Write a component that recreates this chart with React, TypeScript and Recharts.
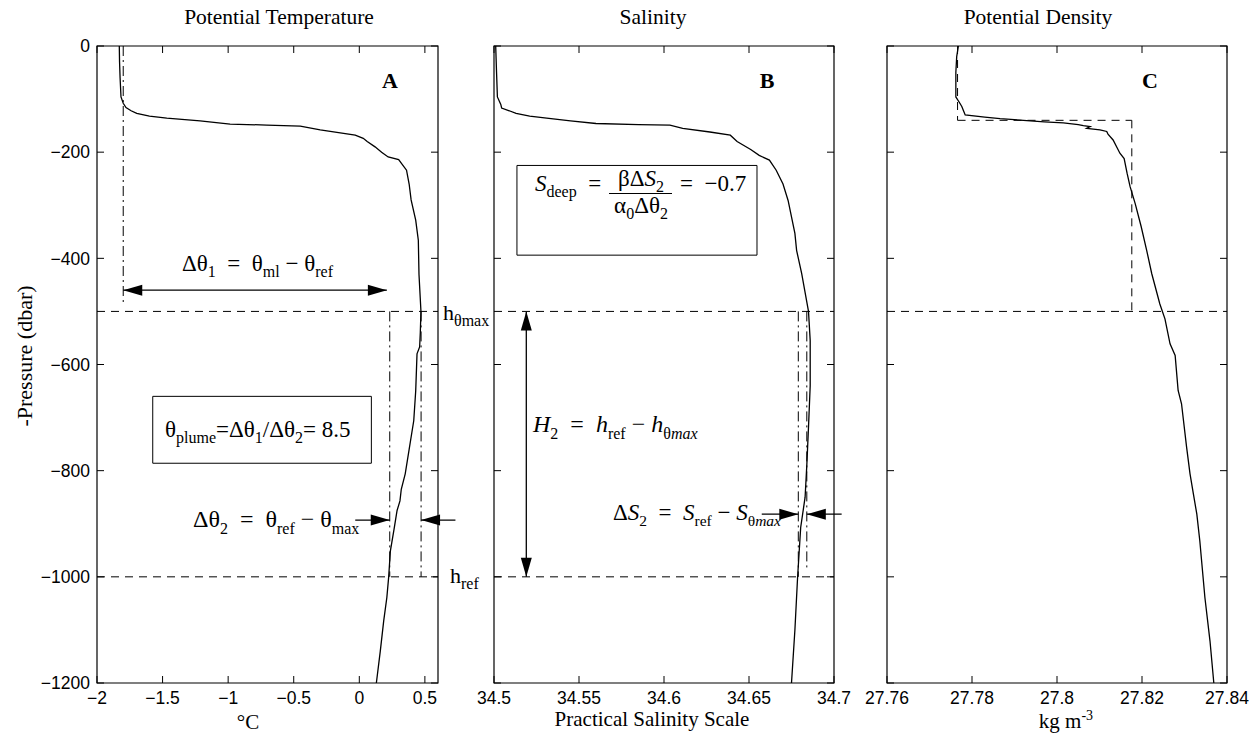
import React from "react";
import { LineChart, Line, XAxis, YAxis, ReferenceLine, ReferenceArea } from "recharts";

const W = 1254;
const H = 733;
const PLOT_TOP = 46;
const PLOT_BOTTOM = 683;
const TICK_PX = 7;

const pressureDomain = [-1200, 0];
const pressureTicks = [-1200, -1000, -800, -600, -400, -200, 0];
const tempTicks = [-2, -1.5, -1, -0.5, 0, 0.5];
const salTicks = [34.5, 34.55, 34.6, 34.65, 34.7];
const densTicks = [27.76, 27.78, 27.8, 27.82, 27.84];

// potential temperature profile
const tempDepth = [0, 30, 60, 96, 108, 116, 122, 127, 132, 136, 141, 147, 149, 151, 158, 168, 174, 180, 190, 200, 209, 214, 234, 260, 290, 328, 366, 430, 500, 540, 567, 580, 650, 706, 760, 806, 835, 857, 875, 910, 951, 1000, 1039, 1083, 1140, 1200];
const tempTheta = [-1.83, -1.828, -1.824, -1.817, -1.8, -1.779, -1.74, -1.697, -1.6, -1.468, -1.214, -0.985, -0.705, -0.45, -0.298, -0.031, 0.03, 0.06, 0.12, 0.17, 0.22, 0.3, 0.36, 0.38, 0.395, 0.43, 0.45, 0.455, 0.47, 0.465, 0.46, 0.44, 0.43, 0.415, 0.38, 0.35, 0.32, 0.31, 0.288, 0.265, 0.237, 0.224, 0.21, 0.186, 0.16, 0.13];

// salinity profile
const salDepth = [0, 50, 96, 110, 117, 122, 127, 132, 136, 141, 146, 148, 149, 155, 162, 168, 180, 195, 206, 215, 234, 260, 291, 353, 385, 429, 500, 555, 640, 718, 790, 850, 907, 1000, 1100, 1200];
const salValues = [34.501, 34.5015, 34.502, 34.504, 34.5045, 34.509, 34.513, 34.521, 34.531, 34.545, 34.56, 34.585, 34.6035, 34.611, 34.627, 34.639, 34.643, 34.651, 34.656, 34.662, 34.666, 34.67, 34.673, 34.677, 34.678, 34.681, 34.685, 34.686, 34.686, 34.685, 34.684, 34.683, 34.6804, 34.6786, 34.677, 34.675];

// potential density profile
const densDepth = [0, 20, 50, 96, 106, 114, 122, 130, 134, 137, 140, 143, 145, 148, 150, 152, 155, 158, 161, 166, 177, 202, 212, 240, 265, 297, 340, 385, 429, 486, 514, 561, 583, 649, 674, 756, 806, 844, 882, 932, 1039, 1121, 1200];
const densValues = [27.7768, 27.7764, 27.7762, 27.7762, 27.777, 27.7776, 27.778, 27.7784, 27.783, 27.7866, 27.7921, 27.797, 27.8015, 27.805, 27.8062, 27.8078, 27.807, 27.8101, 27.8117, 27.812, 27.8132, 27.8148, 27.8158, 27.8165, 27.8172, 27.8184, 27.8198, 27.8211, 27.8223, 27.8242, 27.8254, 27.8266, 27.8278, 27.8285, 27.8293, 27.8305, 27.8313, 27.8321, 27.8329, 27.8336, 27.8348, 27.836, 27.8369];

// annotation levels
const hThetaMax = -500;
const hRef = -1000;
const thetaMl = -1.8;
const thetaRef = 0.232;
const thetaMax = 0.471;
const sRef = 34.679;
const sThetaMax = 34.684;
const sigmaMl = 27.7766;
const sigmaStep = 27.8176;
const mlBase = -140;

const toRows = (depth: number[], vals: number[]) => depth.map((p, i) => ({ x: vals[i], y: -p }));
const tempData = toRows(tempDepth, tempTheta);
const salData = toRows(salDepth, salValues);
const densData = toRows(densDepth, densValues);

const minus = (v: number) => String(v).replace("-", "\u2212");
const DASH = "8 6";
const DASHDOT = "10 4 2 4";
const tickFont = { fill: "#000", fontSize: 17.5, fontFamily: "Liberation Sans, Arial, sans-serif" };

function Arrow(props: any) {
  const { x1, y1, x2, y2, both } = props;
  const head = (tx: number, ty: number, fx: number, fy: number) => {
    const dx = tx - fx;
    const dy = ty - fy;
    const len = Math.hypot(dx, dy) || 1;
    const ux = dx / len;
    const uy = dy / len;
    const bx = tx - ux * 19;
    const by = ty - uy * 19;
    const w = 5.5;
    return `${tx},${ty} ${bx - uy * w},${by + ux * w} ${bx + uy * w},${by - ux * w}`;
  };
  return (
    <g>
      <line x1={x1} y1={y1} x2={x2} y2={y2} stroke="#000" strokeWidth={1.3} />
      <polygon points={head(x2, y2, x1, y1)} fill="#000" />
      {both && <polygon points={head(x1, y1, x2, y2)} fill="#000" />}
    </g>
  );
}

// inward MATLAB-style tick marks on all four sides, plus the box
function frame(domain: number[], ticks: number[], plotLeft: number, plotRight: number) {
  const [x0, x1] = domain;
  const [y0, y1] = pressureDomain;
  const xPerPx = (x1 - x0) / (plotRight - plotLeft);
  const yPerPx = (y1 - y0) / (PLOT_BOTTOM - PLOT_TOP);
  const dx = TICK_PX * xPerPx;
  const dy = TICK_PX * yPerPx;
  const items: any[] = [
    <ReferenceArea key="box" x1={x0} x2={x1} y1={y0} y2={y1} fill="none" stroke="#000" strokeWidth={1.2} ifOverflow="visible" />,
  ];
  ticks.forEach((t) => {
    items.push(<ReferenceLine key={`b${t}`} segment={[{ x: t, y: y0 }, { x: t, y: y0 + dy }]} stroke="#000" ifOverflow="visible" />);
    items.push(<ReferenceLine key={`t${t}`} segment={[{ x: t, y: y1 }, { x: t, y: y1 - dy }]} stroke="#000" ifOverflow="visible" />);
  });
  pressureTicks.forEach((p) => {
    items.push(<ReferenceLine key={`l${p}`} segment={[{ x: x0, y: p }, { x: x0 + dx, y: p }]} stroke="#000" ifOverflow="visible" />);
    items.push(<ReferenceLine key={`r${p}`} segment={[{ x: x1, y: p }, { x: x1 - dx, y: p }]} stroke="#000" ifOverflow="visible" />);
  });
  return items;
}

function Panel({ plotLeft, plotRight, data, domain, ticks, yLabels, children }: any) {
  const yw = yLabels ? 60 : 0;
  return (
    <div style={{ position: "absolute", left: 0, top: 0 }}>
      <LineChart
        width={W}
        height={H}
        data={data}
        margin={{ top: PLOT_TOP, bottom: H - PLOT_BOTTOM - 30, left: plotLeft - yw, right: W - plotRight }}
      >
        <XAxis
          type="number"
          dataKey="x"
          domain={domain}
          ticks={ticks}
          interval={0}
          allowDataOverflow
          height={30}
          axisLine={false}
          tickLine={false}
          tickSize={-6}
          tickMargin={15}
          tick={tickFont}
          tickFormatter={minus}
        />
        <YAxis
          type="number"
          domain={pressureDomain}
          ticks={pressureTicks}
          interval={0}
          allowDataOverflow
          width={yw}
          hide={!yLabels}
          axisLine={false}
          tickLine={false}
          tickSize={-6}
          tickMargin={13}
          tick={tickFont}
          tickFormatter={minus}
        />
        {frame(domain, ticks, plotLeft, plotRight)}
        {children}
        <Line dataKey="y" stroke="#000" strokeWidth={1.3} dot={false} isAnimationActive={false} />
      </LineChart>
    </div>
  );
}

const serif = "Liberation Serif, Times New Roman, serif";

type Seg = { t: string; sub?: boolean; sup?: boolean; it?: boolean };

function Formula({ x, y, size = 24, subSize = 16, segs, anchor = "start" }: { x: number; y: number; size?: number; subSize?: number; segs: Seg[]; anchor?: string }) {
  let level = 0;
  return (
    <text x={x} y={y} fontSize={size} textAnchor={anchor} fill="#000" style={{ whiteSpace: "pre" }}>
      {segs.map((s, i) => {
        const target = s.sub ? Math.round(size * 0.28) : s.sup ? -Math.round(size * 0.4) : 0;
        const dy = target - level;
        level = target;
        return (
          <tspan key={i} dy={dy || undefined} fontSize={s.sub || s.sup ? subSize : undefined} fontStyle={s.it ? "italic" : undefined}>
            {s.t}
          </tspan>
        );
      })}
    </text>
  );
}

function Annotations() {
  return (
    <svg width={W} height={H} style={{ position: "absolute", left: 0, top: 0, pointerEvents: "none" }} fontFamily={serif}>
      <g fontSize={21.5} textAnchor="middle" fill="#000">
        <text x={279} y={24}>Potential Temperature</text>
        <text x={653} y={24}>Salinity</text>
        <text x={1038} y={24}>Potential Density</text>
      </g>
      <Formula x={248} y={729} size={21} anchor="middle" segs={[{ t: "°C" }]} />
      <Formula x={652} y={726} size={21} anchor="middle" segs={[{ t: "Practical Salinity Scale" }]} />
      <Formula x={1066} y={728} size={21} subSize={14} anchor="middle" segs={[{ t: "kg m" }, { t: "-3", sup: true }]} />
      <text transform="translate(32,356) rotate(-90)" fontSize={22} textAnchor="middle" fill="#000">
        -Pressure (dbar)
      </text>
      <g fontSize={22} fontWeight="bold" textAnchor="middle" fill="#000">
        <text x={390} y={88}>A</text>
        <text x={767} y={88}>B</text>
        <text x={1150} y={88}>C</text>
      </g>
      <Formula
        x={182}
        y={271}
        size={23}
        segs={[{ t: "Δθ" }, { t: "1", sub: true }, { t: "  =  θ" }, { t: "ml", sub: true }, { t: " − θ" }, { t: "ref", sub: true }]}
      />
      <Formula
        x={193}
        y={527}
        segs={[{ t: "Δθ" }, { t: "2", sub: true }, { t: "  =  θ" }, { t: "ref", sub: true }, { t: " − θ" }, { t: "max", sub: true }]}
      />
      <Formula
        x={165}
        y={437}
        size={23}
        segs={[{ t: "θ" }, { t: "plume", sub: true }, { t: "=Δθ" }, { t: "1", sub: true }, { t: "/Δθ" }, { t: "2", sub: true }, { t: "= 8.5" }]}
      />
      <Formula x={443} y={320} size={22} segs={[{ t: "h" }, { t: "θmax", sub: true }]} />
      <Formula x={450} y={583} size={22} segs={[{ t: "h" }, { t: "ref", sub: true }]} />
      <Formula
        x={533}
        y={432}
        segs={[
          { t: "H", it: true },
          { t: "2", sub: true },
          { t: "  =  " },
          { t: "h", it: true },
          { t: "ref", sub: true },
          { t: " − " },
          { t: "h", it: true },
          { t: "θ", sub: true },
          { t: "max", sub: true, it: true },
        ]}
      />
      <Formula
        x={613}
        y={520}
        size={23}
        subSize={15.5}
        segs={[
          { t: "Δ" },
          { t: "S", it: true },
          { t: "2", sub: true },
          { t: "  =  " },
          { t: "S", it: true },
          { t: "ref", sub: true },
          { t: " − " },
          { t: "S", it: true },
          { t: "θ", sub: true },
          { t: "max", sub: true, it: true },
        ]}
      />
      <Formula x={535} y={191} size={23} segs={[{ t: "S", it: true }, { t: "deep", sub: true }, { t: "  =" }]} />
      <Formula x={641} y={186} size={23} anchor="middle" segs={[{ t: "βΔ" }, { t: "S", it: true }, { t: "2", sub: true }]} />
      <Formula x={641} y={213} size={23} anchor="middle" segs={[{ t: "α" }, { t: "0", sub: true }, { t: "Δθ" }, { t: "2", sub: true }]} />
      <Formula x={680} y={191} size={23} segs={[{ t: "=  −0.7" }]} />
      <line x1={609} y1={193.5} x2={672} y2={193.5} stroke="#000" strokeWidth={1.2} />
    </svg>
  );
}

export default function App() {
  return (
    <div style={{ position: "absolute", left: 0, top: 0, width: W, height: H, background: "#fff" }}>
      <Panel plotLeft={97} plotRight={438} data={tempData} domain={[-2, 0.6]} ticks={tempTicks} yLabels>
        <ReferenceLine y={hThetaMax} stroke="#000" strokeDasharray={DASH} />
        <ReferenceLine y={hRef} stroke="#000" strokeDasharray={DASH} />
        <ReferenceLine segment={[{ x: thetaMl, y: 0 }, { x: thetaMl, y: -488 }]} stroke="#000" strokeDasharray={DASHDOT} />
        <ReferenceLine segment={[{ x: thetaRef, y: hThetaMax }, { x: thetaRef, y: hRef }]} stroke="#000" strokeDasharray={DASHDOT} />
        <ReferenceLine segment={[{ x: thetaMax, y: hThetaMax }, { x: thetaMax, y: hRef }]} stroke="#000" strokeDasharray={DASHDOT} />
        <ReferenceArea x1={-1.575} x2={0.092} y1={-660} y2={-786} fill="none" stroke="#000" strokeWidth={1} ifOverflow="visible" />
        <ReferenceLine
          segment={[{ x: thetaMl, y: -460 }, { x: 0.21, y: -460 }]}
          ifOverflow="visible"
          shape={(p: any) => <Arrow {...p} both />}
        />
        <ReferenceLine
          segment={[{ x: -0.031, y: -893 }, { x: thetaRef, y: -893 }]}
          ifOverflow="visible"
          shape={(p: any) => <Arrow {...p} />}
        />
        <ReferenceLine
          segment={[{ x: 0.733, y: -893 }, { x: thetaMax, y: -893 }]}
          ifOverflow="visible"
          shape={(p: any) => <Arrow {...p} />}
        />
      </Panel>
      <Panel plotLeft={494} plotRight={834} data={salData} domain={[34.5, 34.7]} ticks={salTicks}>
        <ReferenceLine y={hThetaMax} stroke="#000" strokeDasharray={DASH} />
        <ReferenceLine y={hRef} stroke="#000" strokeDasharray={DASH} />
        <ReferenceLine segment={[{ x: sRef, y: hThetaMax }, { x: sRef, y: hRef }]} stroke="#000" strokeDasharray={DASHDOT} />
        <ReferenceLine segment={[{ x: sThetaMax, y: hThetaMax }, { x: sThetaMax, y: -985 }]} stroke="#000" strokeDasharray={DASHDOT} />
        <ReferenceArea x1={34.5135} x2={34.6547} y1={-225} y2={-394} fill="none" stroke="#000" strokeWidth={1} ifOverflow="visible" />
        <ReferenceLine
          segment={[{ x: 34.519, y: hThetaMax }, { x: 34.519, y: hRef }]}
          ifOverflow="visible"
          shape={(p: any) => <Arrow {...p} both />}
        />
        <ReferenceLine
          segment={[{ x: 34.6575, y: -882 }, { x: sRef, y: -882 }]}
          ifOverflow="visible"
          shape={(p: any) => <Arrow {...p} />}
        />
        <ReferenceLine
          segment={[{ x: 34.7045, y: -882 }, { x: sThetaMax, y: -882 }]}
          ifOverflow="visible"
          shape={(p: any) => <Arrow {...p} />}
        />
      </Panel>
      <Panel plotLeft={887} plotRight={1227} data={densData} domain={[27.76, 27.84]} ticks={densTicks}>
        <ReferenceLine y={hThetaMax} stroke="#000" strokeDasharray={DASH} />
        <ReferenceLine segment={[{ x: sigmaMl, y: 0 }, { x: sigmaMl, y: mlBase }]} stroke="#000" strokeDasharray={DASH} />
        <ReferenceLine segment={[{ x: sigmaMl, y: mlBase }, { x: sigmaStep, y: mlBase }]} stroke="#000" strokeDasharray={DASH} />
        <ReferenceLine segment={[{ x: sigmaStep, y: mlBase }, { x: sigmaStep, y: hThetaMax }]} stroke="#000" strokeDasharray={DASH} />
      </Panel>
      <Annotations />
    </div>
  );
}
